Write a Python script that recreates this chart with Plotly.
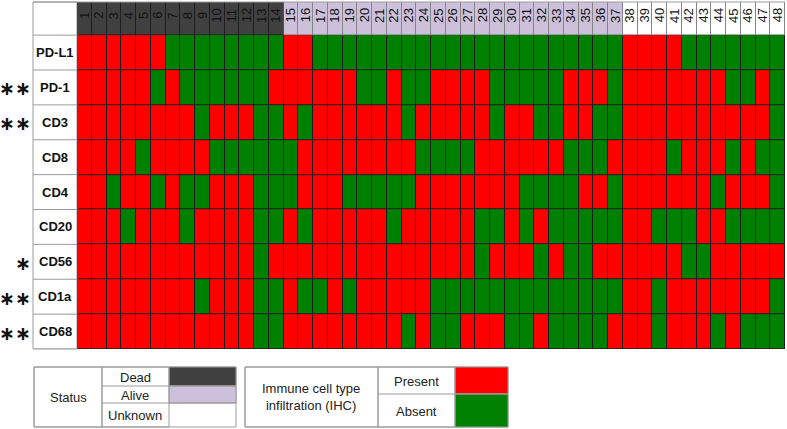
import plotly.graph_objects as go

# ---------------- data ----------------
patients = list(range(1, 49))
markers = ["PD-L1", "PD-1", "CD3", "CD8", "CD4", "CD20", "CD56", "CD1a", "CD68"]
stars = ["", "**", "**", "", "", "", "*", "**", "**"]

# status: 0 = Dead, 1 = Alive, 2 = Unknown
status = [0, 0, 0, 0, 0, 0, 0, 0, 0, 0, 0, 0, 0, 0,
          1, 1, 1, 1, 1, 1, 1, 1, 1, 1, 1, 1, 1, 1, 1, 1, 1, 1, 1, 1, 1, 1, 1,
          2, 2, 2, 2, 2, 2, 2, 2, 2, 2, 2]

# 1 = Present, 0 = Absent
pd_l1 = [1,1,1,1,1,1,0,0,0,0,0,0,0,0,1,1,0,0,0,0,0,0,0,0,0,0,0,0,0,0,0,0,0,0,0,0,0,1,1,1,1,0,0,0,0,0,0,0]
pd_1  = [1,1,1,1,1,0,1,0,0,0,0,0,0,1,1,1,1,1,1,0,0,1,0,0,1,1,1,1,0,0,0,0,0,1,1,1,0,1,1,1,1,1,1,1,0,0,1,0]
cd3   = [1,1,1,1,1,1,1,1,0,1,1,1,0,0,1,0,1,1,1,1,1,1,0,1,1,1,1,1,0,1,1,0,0,1,1,0,0,1,1,1,1,1,1,1,1,1,1,0]
cd8   = [1,1,1,1,0,1,1,1,1,0,0,0,0,0,0,1,1,1,1,1,1,1,1,0,0,0,0,1,1,1,1,1,1,0,0,0,1,1,1,1,0,1,1,1,0,1,0,0]
cd4   = [1,1,0,1,1,0,1,0,0,1,1,1,0,0,0,1,1,1,0,0,0,0,0,1,1,1,1,1,1,1,0,0,0,0,1,1,0,1,1,1,1,1,1,0,1,1,1,0]
cd20  = [1,1,1,0,1,1,1,0,1,1,1,1,0,0,1,0,1,1,1,1,1,0,1,1,1,1,1,0,0,1,0,1,0,0,0,0,0,1,1,0,0,0,1,1,0,0,0,0]
cd56  = [1,1,1,1,1,1,1,1,1,1,1,1,0,1,1,1,1,1,1,1,1,1,1,1,1,1,1,0,1,1,1,0,1,0,0,1,1,1,1,1,1,0,0,1,1,1,1,1]
cd1a  = [1,1,1,1,1,1,1,1,0,1,1,1,0,0,1,0,0,1,0,1,1,1,1,1,0,0,0,0,0,0,0,0,0,0,0,0,0,1,1,0,1,1,1,1,1,1,1,0]
cd68  = [1,1,1,1,1,1,1,1,1,1,1,1,0,0,1,1,1,1,1,1,1,1,0,1,0,0,1,1,1,0,0,1,0,0,0,0,1,1,1,0,1,1,1,0,1,0,0,0]
matrix = [pd_l1, pd_1, cd3, cd8, cd4, cd20, cd56, cd1a, cd68]

DEAD, ALIVE, UNKNOWN = "#404040", "#ccc0da", "#ffffff"
PRESENT, ABSENT = "#ff0000", "#008000"

W, H = 787, 429
L, R, T, B = 77, 2, 2, 80
PW, PH = W - L - R, H - T - B


def px(x):
    return (x - L) / PW


def py(y):
    return (H - B - y) / PH


fig = go.Figure()
fig.add_trace(go.Heatmap(
    x=patients, y=[0], z=[status], zmin=0, zmax=2,
    colorscale=[[0, DEAD], [0.5, ALIVE], [1, UNKNOWN]],
    showscale=False, xgap=1, ygap=1, hoverinfo="skip"))
fig.add_trace(go.Heatmap(
    x=patients, y=list(range(1, len(markers) + 1)), z=matrix, zmin=0, zmax=1,
    colorscale=[[0, ABSENT], [1, PRESENT]],
    showscale=False, xgap=1, ygap=1, hoverinfo="skip"))

shapes = []
annotations = []
GRID = "#9a9a9a"

# lighter separators behind the alive / unknown header cells
n_dead = status.count(0)
shapes.append(dict(type="rect", xref="x", yref="y", x0=n_dead + 0.5, x1=len(patients) + 0.5,
                   y0=-0.5, y1=0.5, line=dict(width=0), fillcolor="#858585", layer="below"))

# label column
shapes.append(dict(type="rect", xref="paper", yref="paper", x0=px(33), x1=0, y0=0, y1=1,
                   line=dict(color=GRID, width=1), fillcolor="white", layer="below"))
for i in range(len(markers) + 1):
    shapes.append(dict(type="line", xref="paper", yref="y", x0=px(33), x1=0,
                       y0=i + 0.5, y1=i + 0.5, line=dict(color=GRID, width=1)))
shapes.append(dict(type="line", xref="paper", yref="paper", x0=px(33), x1=1, y0=1, y1=1,
                   line=dict(color=GRID, width=1)))

for i, m in enumerate(markers):
    annotations.append(dict(xref="paper", yref="y", x=px(55), y=i + 1, xanchor="center",
                            yanchor="middle", text="<b>%s</b>" % m,
                            showarrow=False, font=dict(family="Arial", size=13, color="#111")))
    if stars[i]:
        annotations.append(dict(xref="paper", yref="y", x=px(33), y=i + 1, xanchor="right",
                                yanchor="middle", yshift=-1,
                                text="<b>%s</b>" % ("∗" * len(stars[i])), showarrow=False,
                                font=dict(family="DejaVu Sans", size=19, color="#111")))

for p in patients:
    annotations.append(dict(xref="x", yref="y", x=p, y=0, yshift=2, text=str(p), textangle=-90,
                            xanchor="center", yanchor="middle",
                            showarrow=False, font=dict(family="Arial", size=13, color="#111")))


def rect(x0, y0, x1, y1, fill="rgba(0,0,0,0)"):
    shapes.append(dict(type="rect", xref="paper", yref="paper", x0=px(x0), x1=px(x1),
                       y0=py(y1), y1=py(y0), line=dict(color=GRID, width=1), fillcolor=fill))


def hline(x0, x1, y):
    shapes.append(dict(type="line", xref="paper", yref="paper", x0=px(x0), x1=px(x1),
                       y0=py(y), y1=py(y), line=dict(color=GRID, width=1)))


def text(x, y, t, size=13):
    annotations.append(dict(xref="paper", yref="paper", x=px(x), y=py(y), text=t, showarrow=False,
                            xanchor="center", yanchor="middle",
                            font=dict(family="Arial", size=size, color="#222")))


# Status legend
rect(34, 367, 236, 427, "white")
rect(169, 367, 236, 386, DEAD)
rect(169, 386, 236, 403, ALIVE)
rect(34, 367, 102, 427)
rect(102, 367, 169, 427)
hline(102, 236, 386)
hline(102, 236, 403)
text(68, 397, "Status")
text(135, 377, "Dead")
text(135, 395, "Alive")
text(135, 415, "Unknown")

# IHC legend
rect(245, 367, 508, 427, "white")
rect(455, 367, 508, 394, PRESENT)
rect(455, 394, 508, 427, ABSENT)
rect(245, 367, 378, 427)
rect(378, 367, 455, 427)
hline(378, 508, 394)
text(311, 397, "Immune cell type<br>infiltration (IHC)")
text(416, 381, "Present")
text(416, 411, "Absent")

fig.update_layout(
    width=W, height=H, margin=dict(l=L, r=R, t=T, b=B),
    paper_bgcolor="white", plot_bgcolor="#1e1e1e",
    xaxis=dict(range=[0.5, 48.5], visible=False, fixedrange=True),
    yaxis=dict(range=[9.5, -0.45], visible=False, fixedrange=True),
    shapes=shapes, annotations=annotations, showlegend=False,
)

fig.write_html("out.html", config={"displayModeBar": False},
               post_script="document.body.style.margin='0';document.body.style.overflow='hidden';")
